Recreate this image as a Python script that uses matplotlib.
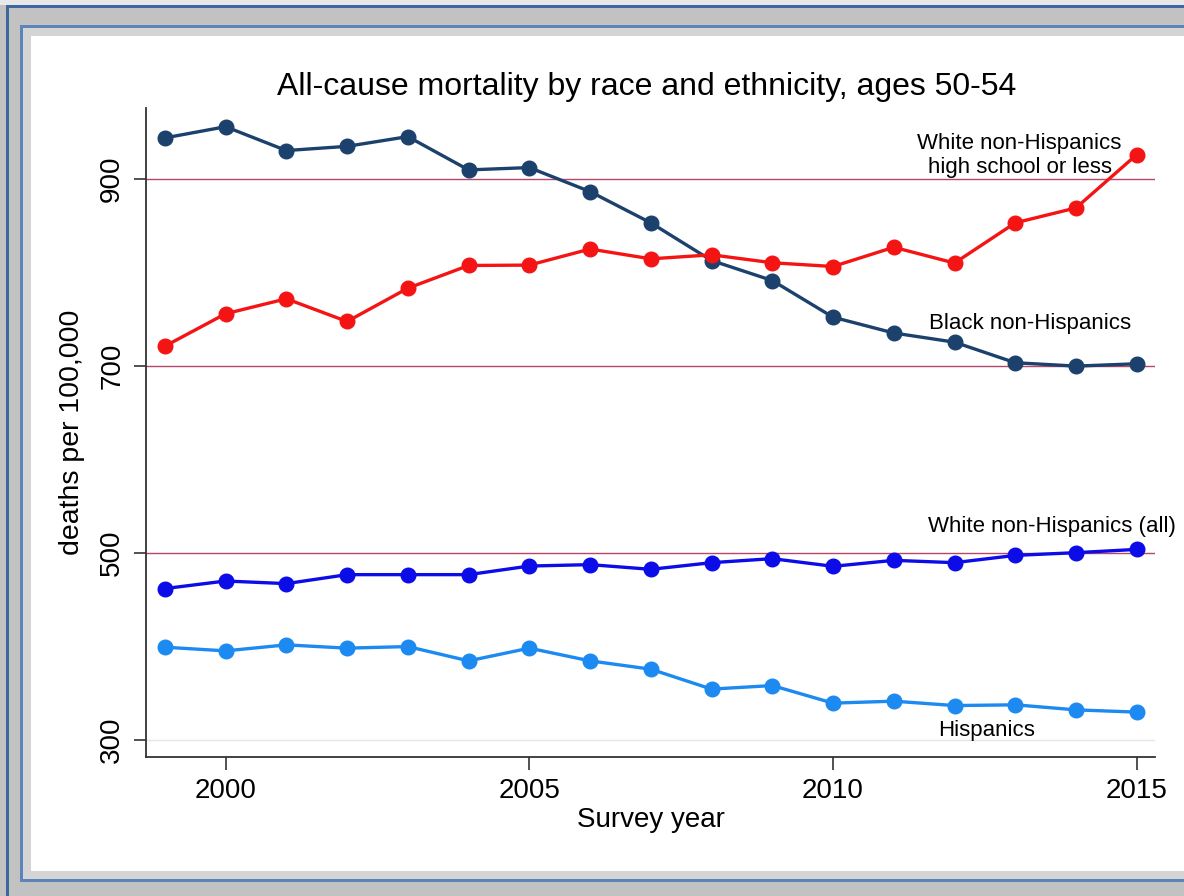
import matplotlib
matplotlib.use('Agg')
import matplotlib.pyplot as plt
from matplotlib.patches import Rectangle

plt.rcParams['font.family'] = ['Liberation Sans', 'DejaVu Sans']

# Data (deaths per 100,000, ages 50-54)
years = list(range(1999, 2016))
black_nh = [944, 956, 930.5, 935, 945.4, 909.8, 912.3, 886.6, 853.2, 812.9,
            791.5, 752.3, 735.4, 725.6, 703.6, 700, 702.5]
white_hs = [721.3, 756, 772, 747.7, 783.3, 807.6, 808, 825.2, 814.7, 819,
            810.5, 806.5, 827.1, 810.2, 853.2, 869.2, 926.2]
white_all = [462.1, 470.2, 467.4, 477, 477, 477, 486.2, 487.7, 482.7, 489.8,
             494.1, 485.9, 492.3, 489.8, 497.6, 500.5, 504]
hispanics = [399.4, 395.5, 401.9, 398.4, 400.1, 384.8, 398.4, 384.8, 375.9, 354.6,
             358.4, 339.6, 341.7, 337, 337.8, 332.4, 330]

x_ticks = [2000, 2005, 2010, 2015]
y_ticks = [300, 500, 700, 900]
ref_lines = [500, 700, 900]

W, H = 1184, 896
fig = plt.figure(figsize=(W / 100, H / 100), dpi=100)
fig.patch.set_facecolor('#c2c2c2')

# picture frame, in pixel units converted to figure fraction
def frame_rect(x0, y0, x1, y1, color):
    fig.patches.append(Rectangle((x0 / W, 1 - y1 / H), (x1 - x0) / W, (y1 - y0) / H,
                                 transform=fig.transFigure, facecolor=color,
                                 edgecolor='none', zorder=-5))

frame_rect(0, 0, W, 5, '#e8e8e8')
frame_rect(6, 5, W, 8, '#3f679f')
frame_rect(6, 5, 9, H, '#3f679f')
frame_rect(20, 25, W, 28, '#5b84bb')
frame_rect(20, 25, 23, 882, '#5b84bb')
frame_rect(20, 879, W, 882, '#5b84bb')
frame_rect(23, 28, W, 879, '#d4d4d4')
frame_rect(31, 36, W, 871, 'white')

ax = fig.add_axes([146 / W, 1 - 757 / H, (1155 - 146) / W, (757 - 108) / H])
ax.set_zorder(2)
ax.set_facecolor('white')

for yv in ref_lines:
    ax.axhline(yv, color='#b5476a', lw=1.0, zorder=1)
ax.axhline(300, color='#e6e6e6', lw=1.0, zorder=1)

ax.plot(years, black_nh, color='#1b416c', lw=2.4, marker='o', ms=10.5, zorder=3)
ax.plot(years, white_hs, color='#f51414', lw=2.4, marker='o', ms=10.5, zorder=3)
ax.plot(years, white_all, color='#0c0ce8', lw=2.4, marker='o', ms=10.5, zorder=3)
ax.plot(years, hispanics, color='#1c8af0', lw=2.4, marker='o', ms=10.5, zorder=3)

ax.set_xlim(1998.69, 2015.3)
ax.set_ylim(282, 976)
ax.set_xticks(x_ticks)
ax.set_yticks(y_ticks)
ax.tick_params(axis='both', direction='out', length=9, width=1.2, color='#333333',
               labelsize=20, pad=6)
for lab in ax.get_yticklabels():
    lab.set_rotation(90)
    lab.set_va('center')

for side in ['top', 'right']:
    ax.spines[side].set_visible(False)
for side in ['left', 'bottom']:
    ax.spines[side].set_color('#333333')
    ax.spines[side].set_linewidth(1.3)

ax.set_xlabel('Survey year', fontsize=20, labelpad=2)
ax.set_ylabel('deaths per 100,000', fontsize=20.5, labelpad=10)
fig.text(647 / W, 1 - 87 / H, 'All-cause mortality by race and ethnicity, ages 50-54',
         ha='center', va='center', fontsize=23)

ax.text(2013.07, 925, 'White non-Hispanics\nhigh school or less', ha='center', va='center',
        fontsize=16, linespacing=1.2, zorder=4)
ax.text(2013.25, 746, 'Black non-Hispanics', ha='center', va='center', fontsize=16, zorder=4)
ax.text(2013.6, 529, 'White non-Hispanics (all)', ha='center', va='center', fontsize=16,
        zorder=4, clip_on=False)
ax.text(2012.53, 310, 'Hispanics', ha='center', va='center', fontsize=16, zorder=4)

fig.savefig('out.png', dpi=100, facecolor=fig.get_facecolor())
